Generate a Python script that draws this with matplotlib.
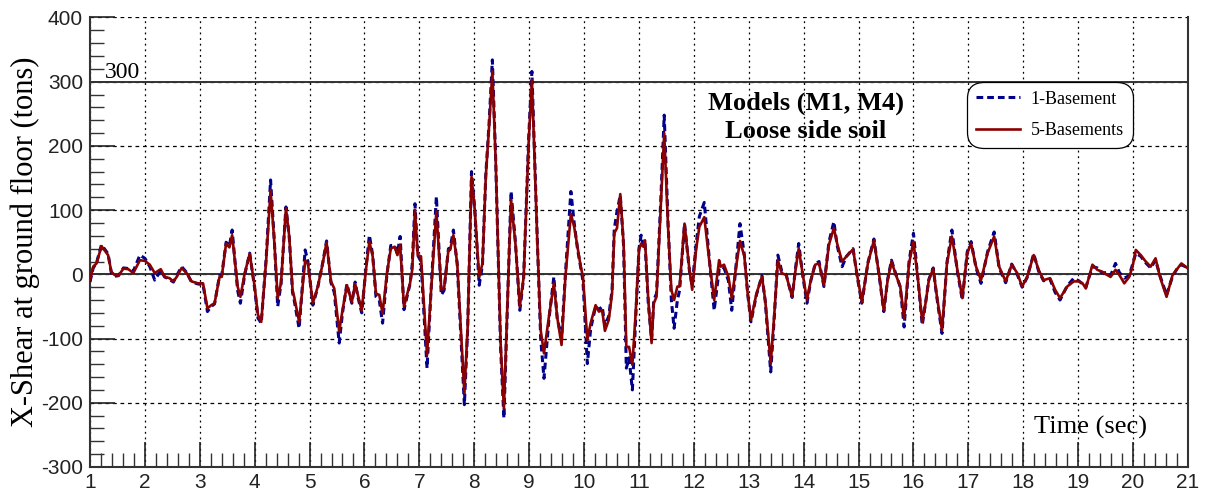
import matplotlib
matplotlib.use("Agg")
import matplotlib.pyplot as plt
from matplotlib.ticker import MultipleLocator

plt.rcParams["axes.unicode_minus"] = False

# 5-Basements model, base shear in x (tons) vs time (sec)
t_5b = [1.00, 1.06, 1.12, 1.21, 1.33, 1.39, 1.45, 1.52, 1.61, 1.70, 1.79, 1.91, 2.00, 2.09, 2.18,
        2.29, 2.36, 2.45, 2.52, 2.58, 2.67, 2.76, 2.85, 2.97, 3.06, 3.14, 3.21, 3.27, 3.36, 3.40,
        3.48, 3.54, 3.59, 3.69, 3.74, 3.82, 3.91, 4.00, 4.06, 4.12, 4.21, 4.29, 4.36, 4.42, 4.48,
        4.57, 4.63, 4.69, 4.72, 4.81, 4.92, 4.97, 5.06, 5.15, 5.24, 5.31, 5.39, 5.45, 5.54, 5.60,
        5.68, 5.77, 5.83, 5.88, 5.95, 6.03, 6.09, 6.15, 6.21, 6.27, 6.33, 6.41, 6.48, 6.55, 6.60,
        6.65, 6.72, 6.83, 6.87, 6.92, 6.97, 7.03, 7.14, 7.21, 7.31, 7.40, 7.45, 7.53, 7.56, 7.62,
        7.69, 7.82, 7.88, 7.95, 8.01, 8.09, 8.15, 8.21, 8.27, 8.33, 8.39, 8.48, 8.54, 8.60, 8.67,
        8.75, 8.83, 8.90, 8.99, 9.05, 9.15, 9.21, 9.27, 9.36, 9.45, 9.51, 9.59, 9.66, 9.76, 9.82,
        9.88, 9.94, 9.98, 10.06, 10.12, 10.21, 10.27, 10.33, 10.38, 10.45, 10.51, 10.55, 10.60,
        10.66, 10.72, 10.77, 10.82, 10.88, 10.94, 11.00, 11.04, 11.08, 11.11, 11.17, 11.23, 11.27,
        11.32, 11.40, 11.46, 11.53, 11.59, 11.64, 11.70, 11.74, 11.83, 11.92, 11.97, 12.04, 12.10,
        12.19, 12.28, 12.37, 12.46, 12.49, 12.55, 12.63, 12.69, 12.77, 12.84, 12.92, 12.98, 13.04,
        13.14, 13.24, 13.30, 13.40, 13.47, 13.53, 13.60, 13.68, 13.79, 13.86, 13.91, 13.98, 14.06,
        14.13, 14.21, 14.28, 14.37, 14.46, 14.55, 14.61, 14.70, 14.78, 14.90, 14.98, 15.06, 15.17,
        15.28, 15.38, 15.46, 15.53, 15.60, 15.68, 15.76, 15.83, 15.92, 16.00, 16.09, 16.16, 16.22,
        16.28, 16.36, 16.42, 16.52, 16.61, 16.70, 16.80, 16.89, 16.98, 17.05, 17.14, 17.23, 17.35,
        17.47, 17.56, 17.68, 17.79, 17.89, 17.98, 18.07, 18.19, 18.28, 18.37, 18.49, 18.58, 18.67,
        18.80, 18.92, 19.01, 19.08, 19.14, 19.26, 19.35, 19.44, 19.53, 19.59, 19.68, 19.75, 19.84,
        19.93, 19.99, 20.05, 20.14, 20.23, 20.32, 20.41, 20.49, 20.61, 20.72, 20.81, 20.88, 21.00]
v_5b = [-9, 12, 17, 44, 30, 4, -1, -2, 9, 8, 2, 22, 21, 15, 2,
        8, -4, -6, -11, -4, 10, 2, -11, -14, -14, -53, -48, -45, -4, -4,
        48, 42, 61, -19, -35, 2, 32, -19, -63, -74, 22, 131, 48, -37, -14,
        103, 59, -24, -35, -74, 21, 17, -45, -19, 17, 50, -11, -22, -89, -56,
        -17, -43, -15, -32, -56, 9, 51, 28, -30, -32, -61, 2, 40, 43, 30,
        46, -50, -14, 7, 100, 30, 28, -126, -30, 98, -24, -22, 38, 38, 61,
        17, -185, -82, 152, 100, -4, 17, 152, 230, 316, 178, -107, -209, -56, 116,
        48, -50, -4, 204, 303, 48, -87, -123, -66, -14, -66, -110, -4, 94, 74,
        43, 12, -4, -102, -76, -48, -58, -56, -88, -71, -30, 64, 72,
        125, 48, -113, -113, -141, -60, 38, 48, 43, 53, -40, -107, -45,
        -35, 111, 220, 74, -24, -40, -19, -19, 79, 7, -24, 38, 74,
        89, 22, -40, 22, 12, 15, -4, -37, 12, 52, 28, -30, -71,
        -30, -4, -40, -139, -56, 22, 2, -1, -35, 12, 40, 2, -40,
        -9, 15, 17, -17, 46, 72, 48, 20, 28, 39, -4, -43, 17,
        53, -4, -56, -9, 20, -1, -19, -69, 17, 51, -14, -74, -45,
        -9, 9, -30, -87, 17, 59, 7, -37, 33, 48, 12, -9, 33,
        59, 12, -11, 15, 2, -19, -4, 30, 7, -9, -6, -24, -37,
        -19, -11, -11, -14, -22, 15, 7, 4, -1, -4, 7, -1, -14,
        -4, 12, 38, 30, 20, 12, 25, -4, -35, -1, 9, 17, 9]

# 1-Basement model
t_1b = [1.00, 1.06, 1.12, 1.21, 1.33, 1.39, 1.45, 1.52, 1.61, 1.70, 1.79, 1.91, 2.00, 2.09, 2.18,
        2.29, 2.36, 2.45, 2.52, 2.58, 2.67, 2.76, 2.85, 2.97, 3.06, 3.14, 3.21, 3.27, 3.36, 3.40,
        3.48, 3.54, 3.59, 3.69, 3.74, 3.82, 3.91, 4.00, 4.06, 4.12, 4.21, 4.29, 4.36, 4.42, 4.48,
        4.57, 4.63, 4.69, 4.72, 4.81, 4.92, 4.97, 5.06, 5.15, 5.24, 5.31, 5.39, 5.45, 5.54, 5.60,
        5.68, 5.77, 5.83, 5.88, 5.95, 6.03, 6.09, 6.15, 6.21, 6.27, 6.33, 6.41, 6.48, 6.55, 6.60,
        6.65, 6.72, 6.83, 6.87, 6.92, 6.97, 7.03, 7.14, 7.21, 7.31, 7.40, 7.45, 7.53, 7.56, 7.62,
        7.69, 7.82, 7.88, 7.95, 8.01, 8.09, 8.15, 8.21, 8.27, 8.33, 8.39, 8.48, 8.54, 8.60, 8.67,
        8.75, 8.83, 8.90, 8.99, 9.05, 9.15, 9.21, 9.27, 9.36, 9.45, 9.51, 9.59, 9.66, 9.76, 9.82,
        9.88, 9.94, 9.98, 10.06, 10.12, 10.21, 10.27, 10.33, 10.38, 10.45, 10.51, 10.55, 10.60,
        10.66, 10.72, 10.77, 10.82, 10.88, 10.94, 11.00, 11.04, 11.08, 11.11, 11.17, 11.23, 11.27,
        11.32, 11.40, 11.46, 11.53, 11.59, 11.64, 11.70, 11.74, 11.83, 11.92, 11.97, 12.04, 12.10,
        12.19, 12.28, 12.37, 12.46, 12.49, 12.55, 12.63, 12.69, 12.77, 12.84, 12.92, 12.98, 13.04,
        13.14, 13.24, 13.30, 13.40, 13.47, 13.53, 13.60, 13.68, 13.79, 13.86, 13.91, 13.98, 14.06,
        14.13, 14.21, 14.28, 14.37, 14.46, 14.55, 14.61, 14.70, 14.78, 14.90, 14.98, 15.06, 15.17,
        15.28, 15.38, 15.46, 15.53, 15.60, 15.68, 15.76, 15.83, 15.92, 16.00, 16.09, 16.16, 16.22,
        16.28, 16.36, 16.42, 16.52, 16.61, 16.70, 16.80, 16.89, 16.98, 17.05, 17.14, 17.23, 17.35,
        17.47, 17.56, 17.68, 17.79, 17.89, 17.98, 18.07, 18.19, 18.28, 18.37, 18.49, 18.58, 18.67,
        18.80, 18.92, 19.01, 19.08, 19.14, 19.26, 19.35, 19.44, 19.53, 19.59, 19.68, 19.75, 19.84,
        19.93, 19.99, 20.05, 20.14, 20.23, 20.32, 20.41, 20.49, 20.61, 20.72, 20.81, 20.88, 21.00]
v_1b = [-12, 10, 18, 46, 32, 2, -3, -2, 10, 9, 5, 30, 25, 12, -9,
        6, -4, -8, -12, -2, 12, 3, -12, -15, -16, -58, -50, -46, -2, -2,
        50, 44, 69, -25, -45, 0, 33, -22, -68, -76, 25, 147, 50, -50, -15,
        105, 58, -28, -40, -84, 38, 20, -48, -20, 18, 52, -13, -28, -107, -60,
        -15, -45, -12, -35, -60, 12, 61, 30, -35, -40, -76, 0, 45, 45, 32,
        59, -55, -15, 15, 110, 30, 20, -146, -30, 121, -32, -25, 40, 40, 69,
        15, -203, -85, 160, 100, -17, 15, 155, 235, 334, 180, -115, -224, -60, 129,
        50, -56, -5, 210, 316, 50, -100, -162, -70, -4, -68, -100, 0, 129, 80,
        40, 10, -10, -139, -85, -50, -55, -50, -80, -65, -25, 70, 98,
        123, 45, -146, -130, -180, -70, 40, 61, 45, 50, -45, -102, -40,
        -30, 120, 248, 80, -40, -84, -40, -25, 79, 5, -17, 45, 90,
        112, 25, -56, 7, 5, 10, -10, -56, 15, 79, 30, -30, -74,
        -32, -2, -42, -152, -60, 30, 5, 0, -36, 15, 48, 0, -45,
        -10, 16, 20, -19, 50, 82, 45, 12, 28, 40, -6, -45, 18,
        55, -5, -58, -8, 22, 0, -20, -82, 20, 64, -15, -79, -45,
        -8, 10, -32, -92, 18, 69, 5, -40, 35, 51, 10, -14, 35,
        66, 10, -13, 16, 0, -20, -5, 32, 5, -10, -8, -28, -40,
        -18, -6, -10, -15, -20, 12, 10, 2, 3, -2, 17, 3, -6,
        -2, 15, 33, 28, 18, 10, 22, -2, -32, -3, 10, 15, 10]

fig = plt.figure(figsize=(12.09, 4.97), dpi=100)
ax = fig.add_axes([0.0744, 0.0604, 0.9082, 0.9044])

ax.plot(t_1b, v_1b, color="#00008b", lw=2.2, ls=(0, (2.2, 1.3)), label="1-Basement", zorder=3)
ax.plot(t_5b, v_5b, color="#8b0000", lw=1.9, label="5-Basements", zorder=4)

ax.set_xlim(1, 21)
ax.set_ylim(-300, 400)
ax.xaxis.set_major_locator(MultipleLocator(1))
ax.xaxis.set_minor_locator(MultipleLocator(0.2))
ax.yaxis.set_major_locator(MultipleLocator(100))
ax.yaxis.set_minor_locator(MultipleLocator(20))

# dotted verticals, dashed horizontals
ax.grid(True, axis="x", which="major", color="black", ls=(0, (1.5, 3)), lw=0.9)
ax.grid(True, axis="y", which="major", color="black", ls=(0, (3, 3)), lw=0.9)
ax.axhline(0, color="#333333", lw=1.4, zorder=2)
ax.axhline(300, color="#333333", lw=1.4, zorder=2)

ax.tick_params(axis="both", which="major", direction="in", length=18, width=1.2,
               labelsize=15, colors="#222222")
ax.tick_params(axis="both", which="minor", direction="in", length=10, width=1.0, colors="#333333")
ax.tick_params(axis="x", which="major", pad=4)
ax.tick_params(axis="y", which="major", pad=5)
for lbl in ax.get_xticklabels() + ax.get_yticklabels():
    lbl.set_family("Liberation Sans")

ax.spines["top"].set_visible(False)
for s in ("left", "bottom", "right"):
    ax.spines[s].set_linewidth(1.5)
    ax.spines[s].set_color("#333333")

ax.set_ylabel("X-Shear at ground floor (tons)", family="Liberation Serif", fontsize=22, labelpad=1)
ax.text(19.23, -239, "Time (sec)", family="Liberation Serif", fontsize=19, ha="center", va="center")
ax.text(1.27, 314, "300", family="Liberation Serif", fontsize=17, ha="left", va="center")
ax.text(14.04, 245, "Models (M1, M4)\nLoose side soil", family="Liberation Serif", fontweight="bold",
        fontsize=19, ha="center", va="center", linespacing=1.3)

leg = ax.legend(loc="upper left", bbox_to_anchor=(0.799, 0.857), prop={"family": "Liberation Serif", "size": 13},
                frameon=True, fancybox=True, edgecolor="black", framealpha=1, handlelength=2.4,
                borderpad=0.5, labelspacing=0.8, borderaxespad=0, handletextpad=0.6)
leg.get_frame().set_linewidth(0.9)
leg.get_frame().set_boxstyle("round", pad=0, rounding_size=0.9)

fig.savefig("out.png", dpi=100)
